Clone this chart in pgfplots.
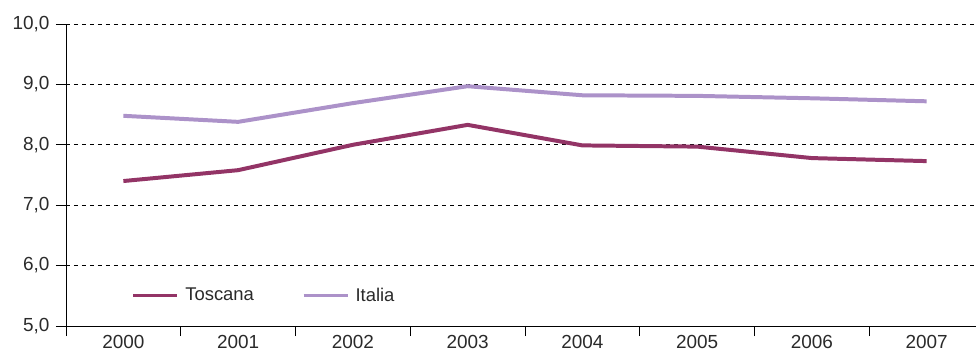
\documentclass[border=0pt]{standalone}
\usepackage{pgfplots}
\pgfplotsset{compat=1.18}
\usepackage{fontspec}
\setmainfont{Liberation Sans}
\definecolor{tosc}{HTML}{933466}
\definecolor{ital}{HTML}{AC92C9}
\definecolor{txt}{HTML}{2A2A2A}
\begin{document}
\fontsize{19}{22}\selectfont
\begin{tikzpicture}
\begin{axis}[
  scale only axis,
  width=910bp, height=302bp,
  xmin=-0.5, xmax=7.43,
  ymin=5, ymax=10,
  axis x line=bottom, axis y line=left,
  axis line style={-, line width=0.8pt, black},
  xtick={-0.5,0.5,1.5,2.5,3.5,4.5,5.5,6.5},
  xticklabels={},
  extra x ticks={0,1,2,3,4,5,6,7},
  extra x tick labels={2000,2001,2002,2003,2004,2005,2006,2007},
  extra x tick style={major tick length=0pt, tick style={draw=none}, grid=none},
  tick style={draw=black, line width=0.8pt},
  ytick={5,6,7,8,9,10},
  tick align=outside,
  major tick length=10bp,
  ymajorgrids,
  major grid style={dash pattern=on 4bp off 4bp, black, line width=0.6pt},
  yticklabel style={/pgf/number format/.cd, fixed, fixed zerofill, precision=1, use comma, assume math mode=true},
  tick label style={font=\fontsize{19}{22}\selectfont, text=txt},
  xticklabel style={inner ysep=0.5bp, yshift=-9bp},
  legend style={at={(axis cs:0.045,5.5)}, anchor=west, draw=none, fill=none,
    font=\fontsize{18.5}{22}\selectfont, text=txt,
    /tikz/every even column/.append style={column sep=46bp}},
  legend columns=2,
  legend image code/.code={\draw[#1, line width=3.2pt] (0bp,0bp) -- (44bp,0bp); \path (48bp,0bp);},
]
\addplot[tosc, line width=4pt, line join=round] coordinates {(0,7.40) (1,7.58) (2,8.00) (3,8.33) (4,7.99) (5,7.97) (6,7.78) (7,7.73)};
\addlegendentry{Toscana}
\addplot[ital, line width=4pt, line join=round] coordinates {(0,8.48) (1,8.38) (2,8.69) (3,8.97) (4,8.82) (5,8.81) (6,8.77) (7,8.72)};
\addlegendentry{Italia}
\end{axis}
\pgfresetboundingbox
\path[use as bounding box] (-66bp,-25bp) rectangle (910bp,326bp);
\end{tikzpicture}
\end{document}
